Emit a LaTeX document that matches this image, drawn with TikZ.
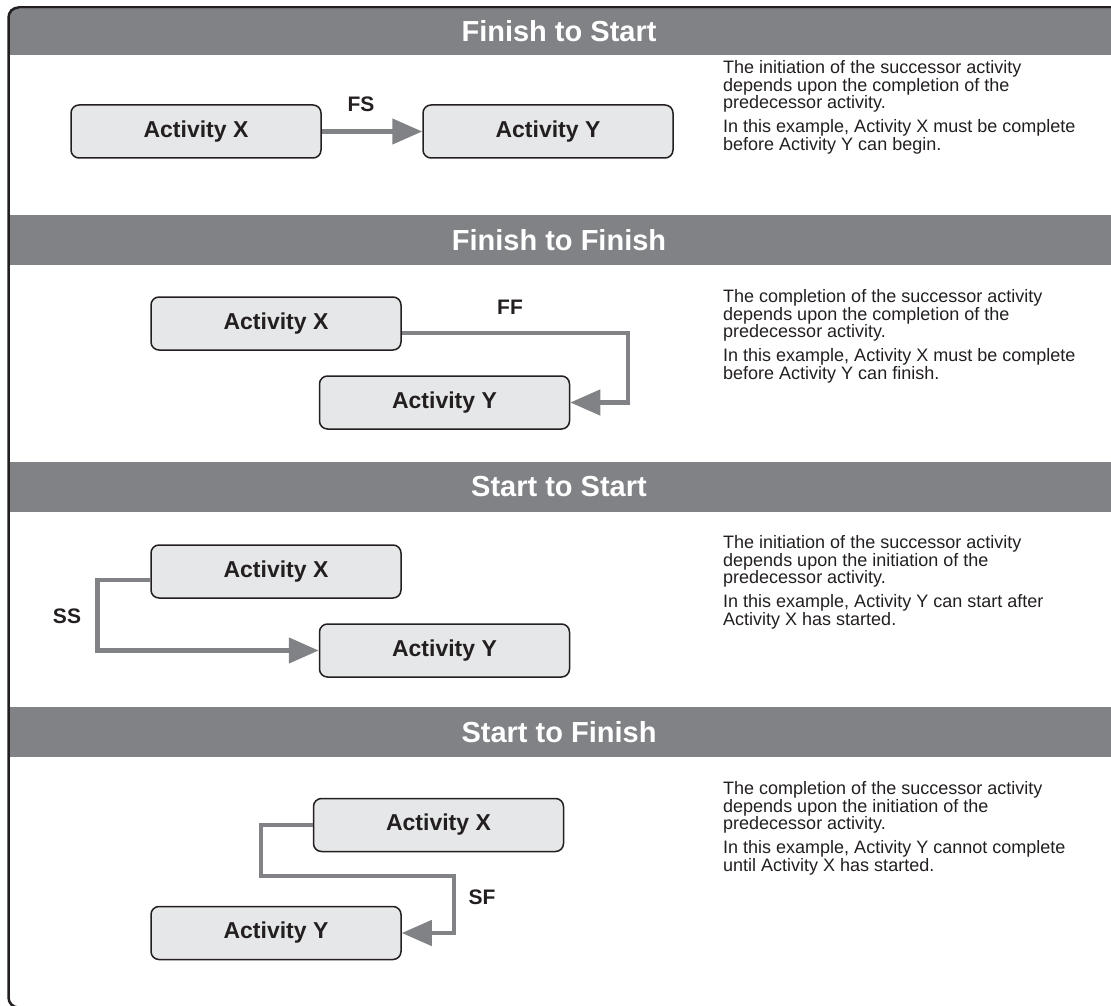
\documentclass[tikz,border=0pt]{standalone}
\usepackage{fontspec}
\setmainfont{Liberation Sans}
\usetikzlibrary{arrows.meta,positioning}
\definecolor{bargray}{HTML}{808285}
\definecolor{boxgray}{HTML}{E6E7E8}
\definecolor{inkdark}{HTML}{231F20}

\begin{document}
\begin{tikzpicture}[x=1pt, y=-1pt, >={Triangle[length=30pt,width=25pt]},
    every node/.style={text=inkdark},
    activity/.style={draw=inkdark, line width=1.5pt, fill=boxgray, rounded corners=8pt,
      minimum width=250pt, minimum height=53pt, font=\fontsize{23}{23}\selectfont\bfseries},
    link/.style={draw=bargray, line width=4.5pt, ->},
    linktag/.style={font=\fontsize{21}{21}\selectfont\bfseries},
    bandtitle/.style={text=white, font=\fontsize{29}{29}\selectfont\bfseries},
    note/.style={anchor=north west, align=left, inner sep=0pt, font=\fontsize{18}{17.5}\selectfont}]
    \useasboundingbox (0,0) rectangle (1111,1006);
    \clip (0,0) rectangle (1111,1006);

    % Header bands
    \fill[bargray] (9.75,8.75) rectangle (1111,55);
    \fill[bargray] (9.75,215) rectangle (1111,265);
    \fill[bargray] (9.75,462) rectangle (1111,512);
    \fill[bargray] (9.75,707) rectangle (1111,757);
    \node[bandtitle] (fsTitle) at (559,31) {Finish to Start};
    \node[bandtitle] (ffTitle) at (559,240) {Finish to Finish};
    \node[bandtitle] (ssTitle) at (559,487) {Start to Start};
    \node[bandtitle] (sfTitle) at (559,732) {Start to Finish};

    % Outer frame
    \draw[inkdark, line width=2.5pt, rounded corners=10pt] (60,1007.5) -- (8.5,1007.5) -- (8.5,7.5) -- (1130,7.5);

    % Finish to Start
    \node[activity] (fsX) at (196,131.5) {Activity X};
    \node[activity] (fsY) at (548,131.5) {Activity Y};
    \draw[link] (fsX.east) -- (fsY.west);
    \node[linktag] (fsTag) at (361,104) {FS};
    \node[note] (fsNoteA) at (723,60.5) {The initiation of the successor activity\\depends upon the completion of the\\predecessor activity.};
    \node[note] (fsNoteB) at (723,119.5) {In this example, Activity X must be complete\\before Activity Y can begin.};

    % Finish to Finish
    \node[activity] (ffX) at (276,323.5) {Activity X};
    \node[activity] (ffY) at (444.5,402.5) {Activity Y};
    \coordinate (ffTurn) at (628,402.5);
    \draw[link] ([yshift=-9.5pt]ffX.east) -| (ffTurn) -- (ffY.east);
    \node[linktag] (ffTag) at (510,307) {FF};
    \node[note] (ffNoteA) at (723,289.5) {The completion of the successor activity\\depends upon the completion of the\\predecessor activity.};
    \node[note] (ffNoteB) at (723,348.5) {In this example, Activity X must be complete\\before Activity Y can finish.};

    % Start to Start
    \node[activity] (ssX) at (276,571.5) {Activity X};
    \node[activity] (ssY) at (444.5,650.5) {Activity Y};
    \coordinate (ssTurn) at (97.5,650.5);
    \draw[link] ([yshift=-8.5pt]ssX.west) -| (ssTurn) -- (ssY.west);
    \node[linktag] (ssTag) at (67,616) {SS};
    \node[note] (ssNoteA) at (723,535.5) {The initiation of the successor activity\\depends upon the initiation of the\\predecessor activity.};
    \node[note] (ssNoteB) at (723,594.5) {In this example, Activity Y can start after\\Activity X has started.};

    % Start to Finish
    \node[activity] (sfX) at (438.5,825) {Activity X};
    \node[activity] (sfY) at (276,933) {Activity Y};
    \coordinate (sfDip) at (261,876);
    \coordinate (sfTurn) at (454,933);
    \draw[link] (sfX.west) -| (sfDip) -| (sfTurn) -- (sfY.east);
    \node[linktag] (sfTag) at (482,897) {SF};
    \node[note] (sfNoteA) at (723,781.5) {The completion of the successor activity\\depends upon the initiation of the\\predecessor activity.};
    \node[note] (sfNoteB) at (723,840.5) {In this example, Activity Y cannot complete\\until Activity X has started.};
\end{tikzpicture}
\end{document}
